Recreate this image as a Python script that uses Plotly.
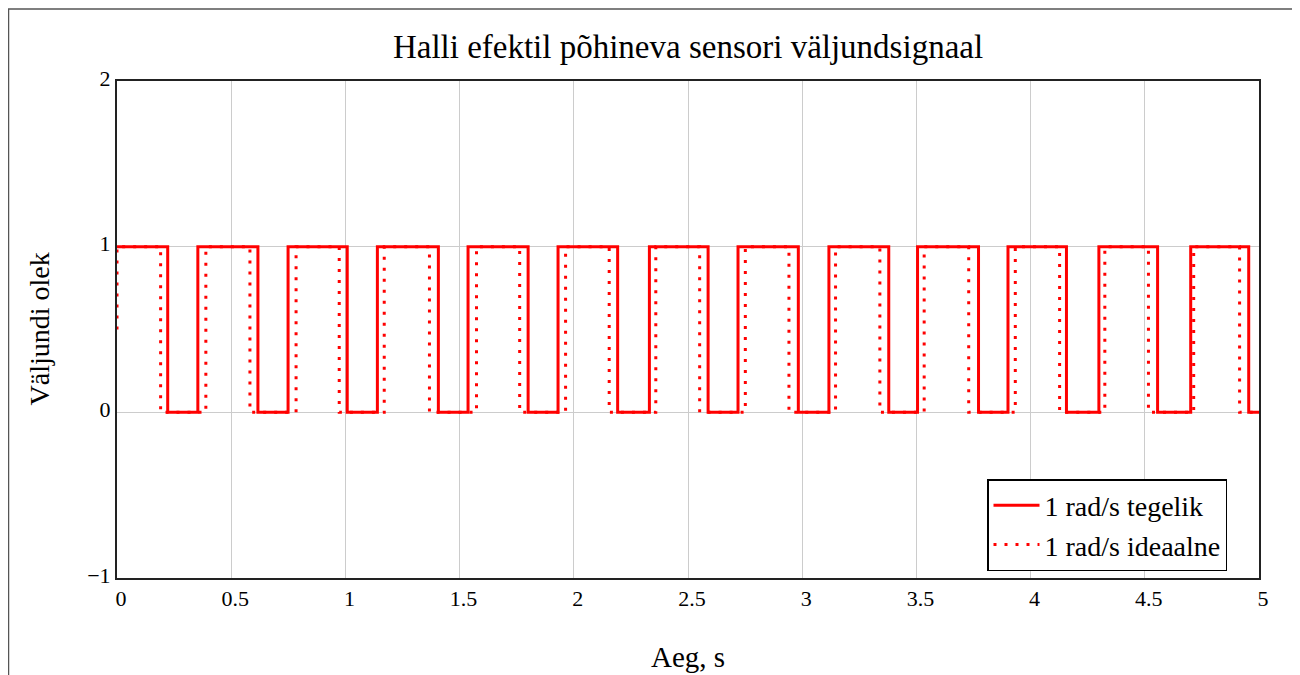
import plotly.graph_objects as go

# Transition times (seconds)
tegelik_falls = [0.222, 0.617, 1.008, 1.407, 1.800, 2.192, 2.588, 2.983, 3.379, 3.772, 4.157, 4.556, 4.955]
tegelik_rises = [0.354, 0.749, 1.140, 1.537, 1.931, 2.331, 2.719, 3.117, 3.505, 3.901, 4.299, 4.701]
ideaalne_falls = [0.191, 0.582, 0.973, 1.368, 1.763, 2.155, 2.551, 2.942, 3.340, 3.729, 4.127, 4.516, 4.915]
ideaalne_rises = [0.389, 0.784, 1.170, 1.574, 1.964, 2.359, 2.751, 3.146, 3.534, 3.933, 4.325, 4.714]
tegelik_start = [1]
ideaalne_start = [0.5, 1]
t_end = 5

x_ticks = [0, 0.5, 1, 1.5, 2, 2.5, 3, 3.5, 4, 4.5, 5]
x_ticklabels = ["0", "0.5", "1", "1.5", "2", "2.5", "3", "3.5", "4", "4.5", "5"]
y_ticks = [-1, 0, 1, 2]
y_ticklabels = ["\u22121", "0", "1", "2"]

title = "Halli efektil põhineva sensori väljundsignaal"
x_title = "Aeg, s"
y_title = "Väljundi olek"
names = ["1 rad/s tegelik", "1 rad/s ideaalne"]


def step_trace(start_vals, falls, rises, end):
    xs = [0] * len(start_vals)
    ys = list(start_vals)
    events = sorted([(f, 0) for f in falls] + [(r, 1) for r in rises])
    level = ys[-1]
    for t, new in events:
        xs += [t, t]
        ys += [level, new]
        level = new
    xs.append(end)
    ys.append(level)
    return xs, ys


xa, ya = step_trace(tegelik_start, tegelik_falls, tegelik_rises, t_end)
xi, yi = step_trace(ideaalne_start, ideaalne_falls, ideaalne_rises, t_end)

FONT = "Liberation Serif, Times New Roman, serif"

# page body adds an 8px offset; plot area in screen px: x 117..1259, y 81..578
PW, PH = 1142, 497

fig = go.Figure()
fig.add_trace(go.Scatter(x=xa, y=ya, mode="lines", name=names[0],
                         line=dict(color="#ff0000", width=3)))
fig.add_trace(go.Scatter(x=xi, y=yi, mode="lines", name=names[1],
                         line=dict(color="#ff0000", width=3, dash="3px,8px")))

fig.update_layout(
    width=1292, height=667,
    margin=dict(l=109, r=41, t=73, b=97),
    paper_bgcolor="white", plot_bgcolor="white",
    font=dict(family=FONT, color="black"),
    title=dict(text=title, x=0.5, xref="paper", xanchor="center",
               y=1 - (46 - 8) / 667, yref="container", yanchor="middle",
               font=dict(family=FONT, size=33, color="black")),
    showlegend=True,
    legend=dict(x=(987 - 117) / PW, y=(578 - 479) / PH, xanchor="left", yanchor="top",
                bgcolor="white", bordercolor="black", borderwidth=1.5,
                font=dict(family=FONT, size=28, color="black"),
                itemwidth=46, tracegroupgap=0),
    xaxis=dict(range=[0, 5], tickvals=x_ticks, ticktext=x_ticklabels,
               showgrid=True, gridcolor="#cccccc", gridwidth=1,
               zeroline=False, showline=True, mirror=True,
               linecolor="#222222", linewidth=2, ticks="",
               ticklabelshift=4,
               tickfont=dict(family=FONT, size=22, color="black")),
    yaxis=dict(range=[-1, 2], tickvals=y_ticks, ticktext=y_ticklabels,
               showgrid=True, gridcolor="#cccccc", gridwidth=1,
               zeroline=False, showline=True, mirror=True,
               linecolor="#222222", linewidth=2, ticks="",
               ticklabelshift=-3,
               tickfont=dict(family=FONT, size=22, color="black")),
    annotations=[
        dict(text=x_title, xref="paper", yref="paper", x=0.5, y=-(657 - 578) / PH,
             xanchor="center", yanchor="middle", showarrow=False,
             font=dict(family=FONT, size=29, color="black")),
        dict(text=y_title, xref="paper", yref="paper", x=-(117 - 39) / PW, y=0.5,
             xanchor="center", yanchor="middle", showarrow=False, textangle=-90,
             font=dict(family=FONT, size=28, color="black")),
    ],
    shapes=[
        dict(type="rect", xref="paper", yref="paper",
             x0=-(117 - 8.5) / PW, x1=(1293 - 117) / PW,
             y0=-(690 - 578) / PH, y1=(578 - 9) / PH,
             line=dict(color="#555555", width=1.5), fillcolor="rgba(0,0,0,0)",
             layer="below"),
    ],
)

fig.write_html("out.html")
